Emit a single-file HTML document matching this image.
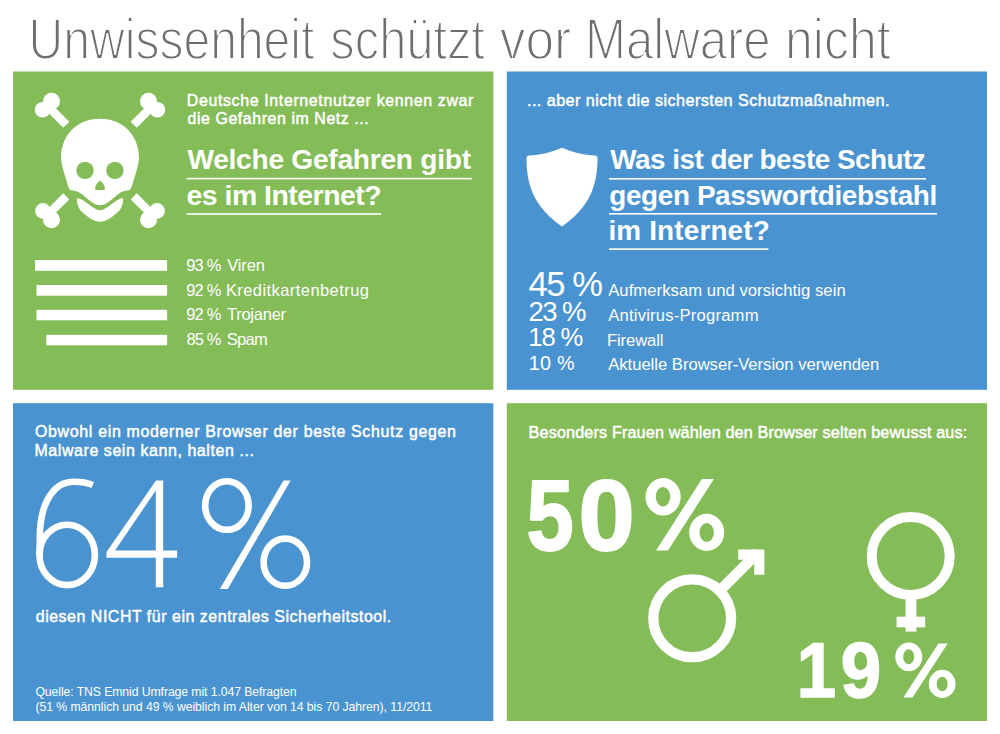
<!DOCTYPE html>
<html><head><meta charset="utf-8">
<style>
html,body{margin:0;padding:0;background:#fff;}
body{width:1000px;height:734px;overflow:hidden;}
svg{display:block;}
text{font-family:"Liberation Sans",sans-serif;white-space:pre;}
</style></head><body>
<svg width="1000" height="734" viewBox="0 0 1000 734">
<rect x="0" y="0" width="1000" height="734" fill="#fff"/>
<rect x="13" y="71.5" width="480.3" height="318.3" fill="#84bc57"/>
<rect x="506.8" y="71.5" width="480.2" height="318.3" fill="#4a93d1"/>
<rect x="13" y="403.2" width="480.3" height="317.8" fill="#4a93d1"/>
<rect x="506.8" y="403.2" width="480.2" height="317.8" fill="#84bc57"/>

<g fill="#fff">
  <!-- bones -->
  <g stroke="#fff" stroke-width="8.6" stroke-linecap="butt">
    <line x1="47" y1="105.5" x2="66.3" y2="124.8"/>
    <line x1="153" y1="105.5" x2="133.7" y2="124.8"/>
    <line x1="47" y1="215.5" x2="66.3" y2="196.4"/>
    <line x1="153" y1="215.5" x2="133.7" y2="196.4"/>
  </g>
  <circle cx="51.5" cy="101.3" r="8.5"/><circle cx="42.6" cy="109.8" r="7.8"/>
  <circle cx="148.5" cy="101.3" r="8.5"/><circle cx="157.4" cy="109.8" r="7.8"/>
  <circle cx="42.9" cy="210.9" r="7.8"/><circle cx="51.5" cy="219.7" r="8.5"/>
  <circle cx="157.1" cy="210.9" r="7.8"/><circle cx="148.5" cy="219.7" r="8.5"/>
  <!-- cranium -->
  <path d="M100,118.7 C124,118.7 139,136 139,158 C138.5,165 136,173 133.5,180.5 C132,186 131,189.5 129.5,190 C126,190.5 122,191 117,195 C110,201 106,205.2 100,205.2 C94,205.2 90,201 83,195 C78,191 74,190.5 70.5,190 C69,189.5 68,186 66.5,180.5 C64,173 61.5,165 61,158 C61,136 76,118.7 100,118.7 Z"/>
  <!-- jaw -->
  <path d="M76.8,198.2 C80,198.2 82,199.5 85,201.5 C90,205 95,210.2 100,210.2 C105,210.2 110,205 115,201.5 C118,199.5 120,198.2 123.2,198.2 C123.2,203 122,207 119.5,210.5 C114,216 106,221.8 100,221.8 C94,221.8 86,216 80.5,210.5 C78,207 76.8,203 76.8,198.2 Z"/>
  <g fill="#84bc57">
    <circle cx="85" cy="170.4" r="8.7"/><circle cx="114.9" cy="170.4" r="8.7"/>
    <path d="M100,181 C102.5,181 105,187 105,189 C105,190 104,190 100,190 C96,190 95,190 95,189 C95,187 97.5,181 100,181 Z"/>
  </g>
</g>

<g fill="#fff">
  <rect x="35" y="260" width="132.1" height="10.8"/>
  <rect x="36.5" y="285" width="130.6" height="10.7"/>
  <rect x="36.5" y="309.8" width="130.6" height="10.5"/>
  <rect x="46.3" y="334.8" width="120.8" height="10.5"/>
</g>

<g fill="#fff">
  <rect x="186.6" y="177.8" width="285.2" height="1.6"/>
  <rect x="186.6" y="213.2" width="194.4" height="1.6"/>
  <rect x="609" y="178" width="317" height="1.6"/>
  <rect x="609" y="213" width="328" height="1.6"/>
  <rect x="609" y="248.3" width="159.4" height="1.6"/>
</g>

<path fill="#fff" d="M562,147.8 C572,152 584,155.5 595,155.5 Q597.5,155.5 597.5,158.5 C597.5,188 588,208 562,226.5 C536,208 526.5,188 526.5,158.5 Q526.5,155.5 529,155.5 C540,155.5 552,152 562,147.8 Z"/>

<g fill="none" stroke="#fff" stroke-width="6.6">
  <ellipse cx="67.2" cy="554.9" rx="27.7" ry="30.2"/>
  <path d="M92.8,485 C87,482.5 80,481.8 73.5,481.8 C55,481.8 42,500 40,530 L39.5,556"/>
  <ellipse cx="226.9" cy="505.5" rx="21.7" ry="24.3"/>
  <ellipse cx="285.3" cy="562.2" rx="21.7" ry="23.6"/>
</g>
<g fill="#fff">
  <path fill-rule="evenodd" d="M156,480.6 L163.2,480.6 L163.2,550.6 L177.1,550.6 L177.1,557.7 L163.2,557.7 L163.2,587.3 L155.8,587.3 L155.8,557.7 L106.5,557.7 L106.5,552 Z M155.8,490.4 L155.8,550.6 L115,550.6 Z"/>
  <path d="M283.5,480.6 L290.6,480.6 L227.8,589 L219.8,589 Z"/>
</g>

<g fill="none" stroke="#fff">
  <circle cx="692.2" cy="618.3" r="38.9" stroke-width="10.3"/>
  <line x1="719.5" y1="591" x2="758" y2="552.5" stroke-width="10.6"/>
  <path d="M738.2,554.6 L759.3,554.6 L759.3,574.8" stroke-width="10.2" stroke-linejoin="miter"/>
  <circle cx="910.7" cy="556" r="39" stroke-width="10"/>
  <line x1="911" y1="598" x2="911" y2="631.6" stroke-width="10.8"/>
  <line x1="896.6" y1="622" x2="925.2" y2="622" stroke-width="10.7"/>
</g>
<path id="bp" fill="#fff" fill-rule="evenodd" d="M663.1,478 A17.6,18.8 0 1 1 663.1,515.6 A17.6,18.8 0 1 1 663.1,478 Z M663,486.9 A7.25,9.75 0 1 0 663,506.4 A7.25,9.75 0 1 0 663,486.9 Z M706.7,513.8 A17.5,18.6 0 1 1 706.7,551 A17.5,18.6 0 1 1 706.7,513.8 Z M706.7,523 A7.2,9.55 0 1 0 706.7,542.1 A7.2,9.55 0 1 0 706.7,523 Z M701.8,479.1 L713.9,479.1 L668,550.4 L656,550.4 Z"/>
<use href="#bp" transform="translate(895.3,698) scale(0.766,0.759) translate(-645.5,-551)"/>
<text x="27.94" y="59.10" font-size="56.90" fill="#6e6e6e" stroke="#ffffff" stroke-width="1.80" transform="translate(32.40,0) scale(0.8445,1) translate(-32.40,0)" style="">Unwissenheit</text>
<text x="330.11" y="59.10" font-size="56.90" fill="#6e6e6e" stroke="#ffffff" stroke-width="1.80" transform="translate(331.90,0) scale(0.8573,1) translate(-331.90,0)" style="">schützt</text>
<text x="499.70" y="59.10" font-size="56.90" fill="#6e6e6e" stroke="#ffffff" stroke-width="1.80" transform="translate(500.60,0) scale(0.9030,1) translate(-500.60,0)" style="">vor</text>
<text x="584.25" y="59.10" font-size="56.90" fill="#6e6e6e" stroke="#ffffff" stroke-width="1.80" transform="translate(589.60,0) scale(0.8641,1) translate(-589.60,0)" style="">Malware</text>
<text x="784.54" y="59.10" font-size="56.90" fill="#6e6e6e" stroke="#ffffff" stroke-width="1.80" transform="translate(789.00,0) scale(0.8781,1) translate(-789.00,0)" style="">nicht</text>
<text x="186.81" y="105.95" font-size="15.93" fill="#ffffff" stroke="#ffffff" stroke-width="0.50" stroke-linejoin="round" style="letter-spacing:0.645px;">Deutsche Internetnutzer kennen zwar</text>
<text x="187.55" y="124.25" font-size="15.93" fill="#ffffff" stroke="#ffffff" stroke-width="0.50" stroke-linejoin="round" style="letter-spacing:0.569px;">die Gefahren im Netz ...</text>
<text x="187.40" y="169.40" font-size="28.17" fill="#ffffff" font-weight="bold" style="letter-spacing:-0.277px;">Welche Gefahren gibt</text>
<text x="186.51" y="205.40" font-size="28.45" fill="#ffffff" font-weight="bold" style="letter-spacing:-0.507px;">es im Internet?</text>
<text x="186.23" y="270.60" font-size="16.50" fill="#ffffff" style="letter-spacing:-0.782px;">93 %</text>
<text x="227.20" y="270.60" font-size="16.50" fill="#ffffff" style="letter-spacing:-0.124px;">Viren</text>
<text x="186.23" y="295.60" font-size="16.50" fill="#ffffff" style="letter-spacing:-0.782px;">92 %</text>
<text x="225.91" y="295.60" font-size="16.50" fill="#ffffff" style="letter-spacing:0.427px;">Kreditkartenbetrug</text>
<text x="186.23" y="320.40" font-size="16.50" fill="#ffffff" style="letter-spacing:-0.782px;">92 %</text>
<text x="226.94" y="320.40" font-size="16.50" fill="#ffffff" style="letter-spacing:-0.242px;">Trojaner</text>
<text x="186.48" y="345.20" font-size="16.50" fill="#ffffff" style="letter-spacing:-0.868px;">85 %</text>
<text x="226.68" y="345.20" font-size="16.50" fill="#ffffff" style="letter-spacing:-0.645px;">Spam</text>
<text x="526.98" y="105.95" font-size="16.22" fill="#ffffff" stroke="#ffffff" stroke-width="0.50" stroke-linejoin="round" style="letter-spacing:0.429px;">... aber nicht die sichersten Schutzmaßnahmen.</text>
<text x="610.20" y="169.20" font-size="27.88" fill="#ffffff" font-weight="bold" style="letter-spacing:-0.511px;">Was ist der beste Schutz</text>
<text x="609.33" y="204.80" font-size="27.88" fill="#ffffff" font-weight="bold" style="letter-spacing:-0.376px;">gegen Passwortdiebstahl</text>
<text x="608.46" y="240.10" font-size="27.88" fill="#ffffff" font-weight="bold" style="letter-spacing:0.158px;">im Internet?</text>
<text x="528.46" y="296.00" font-size="34.57" fill="#ffffff" style="letter-spacing:-1.439px;">45 %</text>
<text x="528.61" y="321.20" font-size="27.60" fill="#ffffff" style="letter-spacing:-1.661px;">23 %</text>
<text x="528.30" y="346.00" font-size="25.60" fill="#ffffff" style="letter-spacing:-1.099px;">18 %</text>
<text x="528.66" y="370.20" font-size="19.77" fill="#ffffff" style="letter-spacing:0.286px;">10 %</text>
<text x="608.20" y="296.00" font-size="16.64" fill="#ffffff" style="letter-spacing:0.064px;">Aufmerksam und vorsichtig sein</text>
<text x="608.20" y="321.20" font-size="16.64" fill="#ffffff" style="letter-spacing:0.201px;">Antivirus-Programm</text>
<text x="606.90" y="345.50" font-size="16.64" fill="#ffffff" style="letter-spacing:-0.091px;">Firewall</text>
<text x="608.20" y="370.20" font-size="16.64" fill="#ffffff" style="letter-spacing:-0.016px;">Aktuelle Browser-Version verwenden</text>
<text x="35.00" y="436.75" font-size="15.93" fill="#ffffff" stroke="#ffffff" stroke-width="0.50" stroke-linejoin="round" style="letter-spacing:0.679px;">Obwohl ein moderner Browser der beste Schutz gegen</text>
<text x="34.51" y="455.75" font-size="15.93" fill="#ffffff" stroke="#ffffff" stroke-width="0.50" stroke-linejoin="round" style="letter-spacing:0.596px;">Malware sein kann, halten ...</text>
<text x="35.75" y="621.75" font-size="15.93" fill="#ffffff" stroke="#ffffff" stroke-width="0.50" stroke-linejoin="round" style="letter-spacing:0.538px;">diesen NICHT für ein zentrales Sicherheitstool.</text>
<text x="35.43" y="696.00" font-size="12.23" fill="#ffffff" style="letter-spacing:-0.080px;">Quelle: TNS Emnid Umfrage mit 1.047 Befragten</text>
<text x="35.43" y="710.60" font-size="12.23" fill="#ffffff" style="letter-spacing:-0.047px;">(51 % männlich und 49 % weiblich im Alter von 14 bis 70 Jahren), 11/2011</text>
<text x="528.58" y="437.75" font-size="16.22" fill="#ffffff" stroke="#ffffff" stroke-width="0.50" stroke-linejoin="round" style="letter-spacing:0.134px;">Besonders Frauen wählen den Browser selten bewusst aus:</text>
<text x="526.53" y="550.00" font-size="100.28" fill="#ffffff" font-weight="bold" stroke="#ffffff" stroke-width="2.00" stroke-linejoin="round" transform="translate(527.10,0) scale(0.8472,1) translate(-527.10,0)" style="">5</text>
<text x="578.47" y="550.00" font-size="100.28" fill="#ffffff" font-weight="bold" stroke="#ffffff" stroke-width="2.00" stroke-linejoin="round" transform="translate(580.60,0) scale(1.0084,1) translate(-580.60,0)" style="">0</text>
<text x="796.36" y="697.20" font-size="77.38" fill="#ffffff" font-weight="bold" stroke="#ffffff" stroke-width="1.60" stroke-linejoin="round" transform="translate(800.40,0) scale(0.9136,1) translate(-800.40,0)" style="">1</text>
<text x="840.58" y="697.20" font-size="77.38" fill="#ffffff" font-weight="bold" stroke="#ffffff" stroke-width="1.60" stroke-linejoin="round" transform="translate(842.20,0) scale(0.9382,1) translate(-842.20,0)" style="">9</text>
</svg>
</body></html>
